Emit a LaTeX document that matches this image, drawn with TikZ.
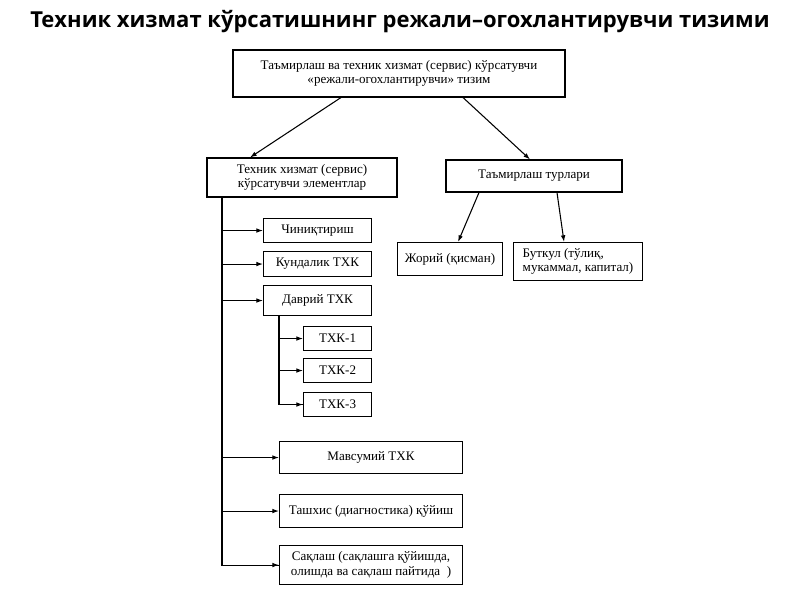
\documentclass[tikz,border=0pt]{standalone}
\usepackage{fontspec}
\setmainfont{Liberation Serif}
\newfontfamily\titlefont{Open Sans}
\usetikzlibrary{arrows.meta}
\tikzset{
  box/.style={draw,thick,inner sep=0pt,align=center,font=\fontsize{9.8}{11}\selectfont},
  link/.style={thick,-{Latex[length=5pt,width=3.5pt]}}
}

\begin{document}
\begin{tikzpicture}[x=0.75pt,y=-0.75pt]
    \useasboundingbox (0,0) rectangle (800,600);
    % — Title
    \node[font=\titlefont\bfseries\fontsize{16.5}{20}\selectfont] (title) at (400,22) {Техник хизмат кўрсатишнинг режали–огохлантирувчи тизими};

    % — Upper level
    \node[box,minimum width=332*0.75pt,minimum height=47*0.75pt] (top) at (399,73.5) {Таъмирлаш ва техник хизмат (сервис) кўрсатувчи\\«режали-огохлантирувчи» тизим};
    \node[box,minimum width=190*0.75pt,minimum height=39*0.75pt] (serv) at (302,177.5) {Техник хизмат (сервис)\\кўрсатувчи элементлар};
    \node[box,minimum width=176*0.75pt,minimum height=32*0.75pt] (rep) at (534,176) {Таъмирлаш турлари};

    % — Repair kinds
    \node[box,minimum width=105*0.75pt,minimum height=33*0.75pt,anchor=north west] (cur) at (397,242) {Жорий (қисман)};
    \node[box,minimum width=129*0.75pt,minimum height=38*0.75pt,anchor=north west,align=left] (full) at (513,242) {Буткул (тўлиқ,\\мукаммал, капитал)};

    % — Service elements
    \node[box,minimum width=108*0.75pt,minimum height=24*0.75pt,anchor=north west] (fix) at (263,218) {Чиниқтириш};
    \node[box,minimum width=108*0.75pt,minimum height=25*0.75pt,anchor=north west] (daily) at (263,251) {Кундалик ТХК};
    \node[box,minimum width=108*0.75pt,minimum height=30*0.75pt,anchor=north west] (per) at (263,285) {Даврий ТХК};
    \node[box,minimum width=68*0.75pt,minimum height=24*0.75pt,anchor=north west] (t1) at (303,326) {ТХК-1};
    \node[box,minimum width=68*0.75pt,minimum height=24*0.75pt,anchor=north west] (t2) at (303,358) {ТХК-2};
    \node[box,minimum width=68*0.75pt,minimum height=24*0.75pt,anchor=north west] (t3) at (303,392) {ТХК-3};
    \node[box,minimum width=183*0.75pt,minimum height=32*0.75pt,anchor=north west] (seas) at (279,441) {Мавсумий ТХК};
    \node[box,minimum width=183*0.75pt,minimum height=33*0.75pt,anchor=north west] (diag) at (279,494) {Ташхис (диагностика) қўйиш};
    \node[box,minimum width=183*0.75pt,minimum height=39*0.75pt,anchor=north west] (store) at (279,545) {Сақлаш (сақлашга қўйишда,\\олишда ва сақлаш пайтида\ \ )};

    % — Arrows
    \draw[link] ([xshift=-58*0.75pt]top.south) -- ([xshift=-52*0.75pt]serv.north);
    \draw[link] ([xshift=64*0.75pt]top.south) -- ([xshift=-4*0.75pt]rep.north);
    \draw[link] ([xshift=-55*0.75pt]rep.south) -- ([xshift=8*0.75pt]cur.north);
    \draw[link] ([xshift=23*0.75pt]rep.south) -- ([xshift=-14*0.75pt]full.north);

    \coordinate (trunk) at (222,197);
    \draw[thick] (trunk) |- (store.west);
    \foreach \n in {fix,daily,per,seas,diag,store}
      \draw[link] (trunk |- \n.west) -- (\n.west);
    \coordinate (sub) at (279,315);
    \draw[thick] (sub) |- (t3.west);
    \foreach \n in {t1,t2,t3}
      \draw[link] (sub |- \n.west) -- (\n.west);
\end{tikzpicture}
\end{document}
